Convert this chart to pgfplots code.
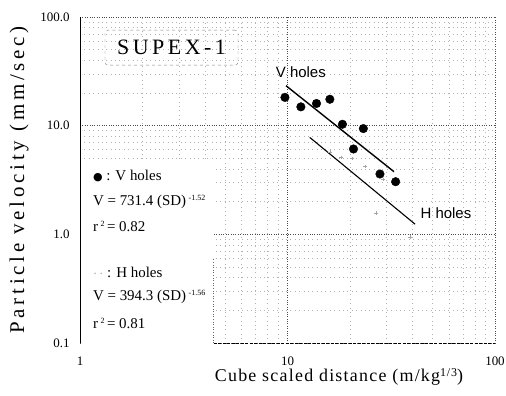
\documentclass[border=0pt]{standalone}
\usepackage{fontspec}
\setmainfont{Liberation Serif}
\newfontfamily\sansf{Liberation Sans}
\newfontfamily\dejavu{DejaVu Sans}
\newfontfamily\yspaced[LetterSpace=18]{Liberation Serif}
\newfontfamily\xspaced[LetterSpace=7]{Liberation Serif}
\newfontfamily\tspaced[LetterSpace=16]{Liberation Serif}
\usepackage{pgfplots}
\pgfplotsset{compat=1.18}
\begin{document}
\begin{tikzpicture}
\path[use as bounding box] (0,0) rectangle (506bp,396bp);
\begin{axis}[
  at={(80bp,53bp)}, anchor=south west,
  scale only axis, width=415bp, height=326bp,
  xmode=log, ymode=log,
  xmin=1, xmax=100, ymin=0.1, ymax=100,
  xtick={1,10,100}, xticklabels={1,10,100},
  ytick={0.1,1,10,100}, yticklabels={0.1,1.0,10.0,100.0},
  minor xtick={2,3,4,5,6,7,8,9,20,30,40,50,60,70,80,90},
  minor ytick={0.2,0.3,0.4,0.5,0.6,0.7,0.8,0.9,2,3,4,5,6,7,8,9,20,30,40,50,60,70,80,90},
  grid=both,
  major grid style={black!70, dotted, line width=0.6bp},
  minor grid style={black!30, loosely dotted, line width=0.6bp},
  major tick length=0pt, minor tick length=0pt,
  axis line style={draw=none},
  /pgf/number format/assume math mode=true,
  ticklabel style={font=\fontsize{13}{13}\selectfont},
  xticklabel style={yshift=-10bp},
  yticklabel style={xshift=-7bp},
  clip=false,
]
% white area without grid (lower left)
\fill[white] (rel axis cs:0.004,-0.01) rectangle (rel axis cs:0.32,0.56);
% axis lines
\draw[line width=1bp] (axis cs:1,0.1) -- (axis cs:1,100);
\draw[dashed, line width=0.9bp, dash pattern=on 3bp off 1.5bp] (axis cs:4.4,0.1) -- (axis cs:100,0.1);
\draw[black!60, dotted, line width=0.6bp] (axis cs:4.4,0.1) -- (axis cs:4.4,0.6);

% fitted lines
\addplot[black, line width=1.4bp] coordinates {(9.84,23.3) (32.6,3.77)};
\addplot[black, line width=1.1bp] coordinates {(12.8,7.8) (41.2,1.24)};

% V holes
\addplot[only marks, mark=*, mark size=4.3bp, black] coordinates {
(9.72,18.2) (11.6,14.9) (13.8,16.0) (16.0,17.5) (18.4,10.3)
(23.2,9.4) (20.8,6.1) (27.9,3.59) (33.2,3.05)};

% H holes (faint)
\addplot[only marks, mark=+, mark size=1.8bp, black!35] coordinates {
(16.0,5.7) (18.1,5.1) (20.4,5.0) (23.6,4.2) (28.8,3.2) (26.7,1.57) (38.9,0.94)};

% annotations
\node[font=\sansf\fontsize{15}{15}\selectfont] at (axis cs:11.6,31.1) {V holes};
\node[font=\sansf\fontsize{15}{15}\selectfont] at (axis cs:58,1.57) {H holes};

% SUPEX box
\node[draw=black!50, dashed, rounded corners=3bp, minimum width=133bp, minimum height=35bp,
      font=\tspaced\fontsize{22}{22}\selectfont] at (rel axis cs:0.2205,0.906) {SUPEX-1};

% legend block
\begin{scope}[every node/.style={anchor=west, inner sep=0pt, font=\fontsize{15}{15}\selectfont}]
\node at (rel axis cs:0.031,0.512) {{\dejavu\fontsize{11}{11}\selectfont ●} : V holes};
\node at (rel axis cs:0.031,0.4325) {V = 731.4 (SD)\,\raisebox{5bp}{\fontsize{8}{8}\selectfont -1.52}};
\node at (rel axis cs:0.031,0.356) {r\,\raisebox{5bp}{\fontsize{8}{8}\selectfont 2}\,= 0.82};
\node at (rel axis cs:0.031,0.215) {{\color{black!35}$\cdot\,\cdot$} : H holes};
\node at (rel axis cs:0.031,0.141) {V = 394.3 (SD)\,\raisebox{5bp}{\fontsize{8}{8}\selectfont -1.56}};
\node at (rel axis cs:0.031,0.061) {r\,\raisebox{5bp}{\fontsize{8}{8}\selectfont 2}\,= 0.81};
\end{scope}

% axis labels
\node[rotate=90, font=\yspaced\fontsize{21}{21}\selectfont] at ([xshift=-61bp]rel axis cs:0,0.5) {Particle velocity (mm/sec)};
\node[font=\xspaced\fontsize{18}{18}\selectfont] at ([yshift=-34bp]rel axis cs:0.624,0) {Cube scaled distance (m/kg\raisebox{5bp}{\fontsize{12}{12}\selectfont 1/3})};
\end{axis}
\end{tikzpicture}
\end{document}
